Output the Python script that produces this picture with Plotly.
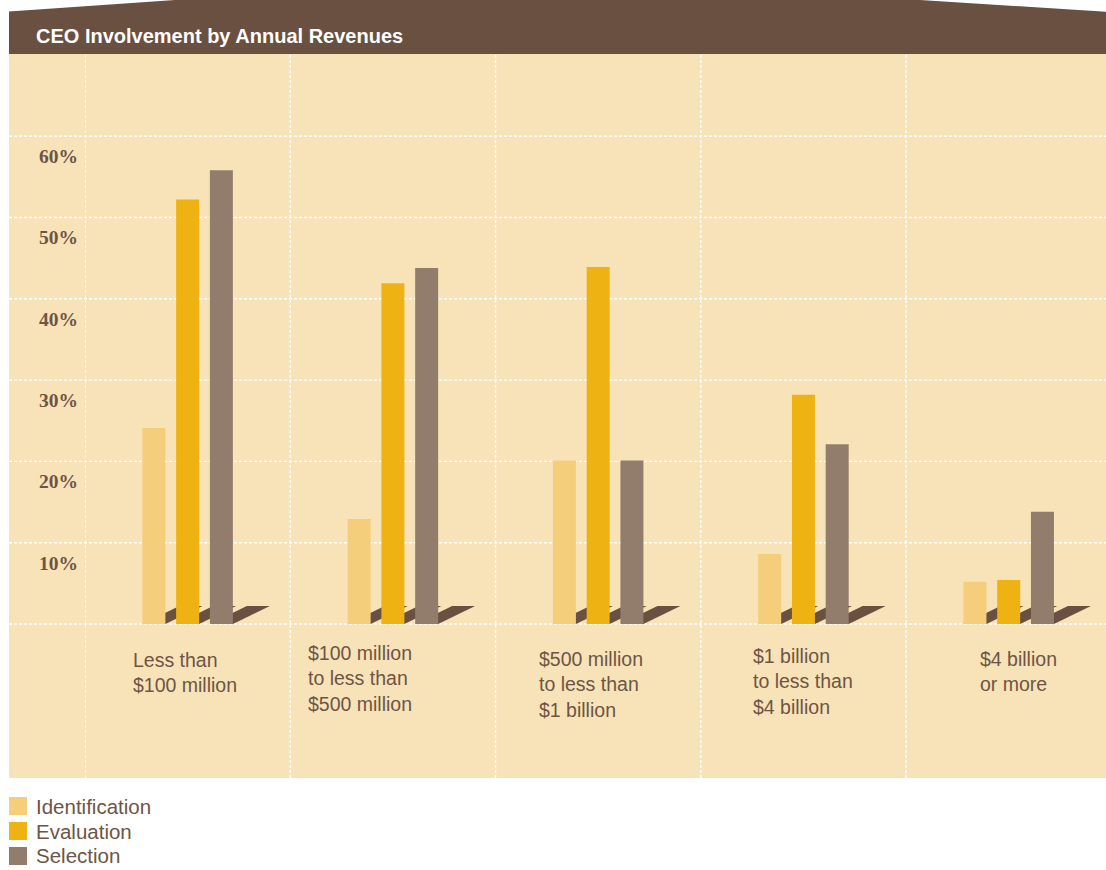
import plotly.graph_objects as go

# ---- data -------------------------------------------------------------
categories = [
    "Less than<br>$100 million",
    "$100 million<br>to less than<br>$500 million",
    "$500 million<br>to less than<br>$1 billion",
    "$1 billion<br>to less than<br>$4 billion",
    "$4 billion<br>or more",
]
series_names = ["Identification", "Evaluation", "Selection"]
identification = [24.1, 12.9, 20.1, 8.6, 5.2]
evaluation = [52.2, 41.9, 43.9, 28.2, 5.4]
selection = [55.8, 43.8, 20.1, 22.1, 13.8]
tick_values = [10, 20, 30, 40, 50, 60]
tick_labels = ["10%", "20%", "30%", "40%", "50%", "60%"]
title_text = "CEO Involvement by Annual Revenues"

# ---- styling ----------------------------------------------------------
W, H = 1106, 870
PLOT_L, PLOT_R, PLOT_T, PLOT_B = 85, 1106, 53, 778     # plot area in px
BG_LEFT = 9                                             # beige panel left edge
series_colors = ["#f5ce7b", "#eeb312", "#927d6d"]
BROWN = "#6a5041"
PANEL = "#f8e2b8"
TEXT = "#6d5545"
GRID = "rgba(255,255,255,1)"

Y_RANGE = [-18.94, 70.23]
X_RANGE = [-0.5, 4.474]
px_per_cat = (PLOT_R - PLOT_L) / (X_RANGE[1] - X_RANGE[0])
px_per_unit = (PLOT_B - PLOT_T) / (Y_RANGE[1] - Y_RANGE[0])

bar_w = 23 / px_per_cat
slot = 33.75 / px_per_cat
shadow_dx = 37 / px_per_cat
shadow_dy = 18 / px_per_unit


def px(x):
    return (x - PLOT_L) / (PLOT_R - PLOT_L)


def py(y):
    return (PLOT_B - y) / (PLOT_B - PLOT_T)


fig = go.Figure()
xs = list(range(len(categories)))
all_values = [identification, evaluation, selection]
offsets = [(i - 1) * slot - bar_w / 2 for i in range(3)]

for name, vals, color, off in zip(series_names, all_values, series_colors, offsets):
    fig.add_trace(go.Bar(
        x=xs, y=vals, name=name, width=bar_w, offset=off,
        marker=dict(color=color, line=dict(width=0)),
        showlegend=False, hoverinfo="skip",
    ))

shapes = []
# beige panel
shapes.append(dict(type="rect", xref="paper", yref="paper",
                   x0=px(BG_LEFT), x1=1, y0=0, y1=1,
                   fillcolor=PANEL, line=dict(width=0), layer="below"))
# header band with slanted top corners
hdr = [(BG_LEFT, 54), (BG_LEFT, 11.5), (175, 0), (920, 0), (1106, 11.7), (1106, 54)]
path = "M " + " L ".join(f"{px(x):.5f},{py(y):.5f}" for x, y in hdr) + " Z"
shapes.append(dict(type="path", xref="paper", yref="paper", path=path,
                   fillcolor=BROWN, line=dict(width=0), layer="below"))
# horizontal dashed grid
for v in [0] + tick_values:
    shapes.append(dict(type="line", xref="paper", yref="y",
                       x0=px(BG_LEFT), x1=1, y0=v, y1=v,
                       line=dict(color=GRID, width=1.4, dash="3px,2px"),
                       layer="below"))
# vertical dashed grid between categories
for k in range(len(categories)):
    shapes.append(dict(type="line", xref="x", yref="paper",
                       x0=k - 0.5, x1=k - 0.5, y0=0, y1=1,
                       line=dict(color=GRID, width=1.4, dash="3px,2px"),
                       layer="below"))
# cast shadows at the foot of each bar
for vals, off in zip(all_values, offsets):
    for j in xs:
        x0 = j + off
        x1 = x0 + bar_w
        p = (f"M {x0},0 L {x1},0 L {x1 + shadow_dx},{shadow_dy} "
             f"L {x0 + shadow_dx},{shadow_dy} Z")
        shapes.append(dict(type="path", xref="x", yref="y", path=p,
                           fillcolor=BROWN, line=dict(width=0), layer="below"))

# legend swatches
legend_tops = [797, 822, 847]
for color, top in zip(series_colors, legend_tops):
    shapes.append(dict(type="rect", xref="paper", yref="paper",
                       x0=px(9), x1=px(27), y0=py(top + 18), y1=py(top),
                       fillcolor=color, line=dict(width=0)))

annotations = []
annotations.append(dict(text=f"<b>{title_text}</b>", xref="paper", yref="paper",
                        x=px(34), y=py(36), xanchor="left", yanchor="middle",
                        showarrow=False,
                        font=dict(family="Liberation Sans, Arial", size=20,
                                  color="white")))

# category labels (left-aligned blocks under each group)
label_nudge = [-57, -86.5, -61, -52, -31]
label_top = [647, 640, 646, 643, 646]
for j, (txt, dxp, top) in enumerate(zip(categories, label_nudge, label_top)):
    annotations.append(dict(text=txt, xref="x", yref="paper", x=j, xshift=dxp,
                            y=py(top), xanchor="left", yanchor="top",
                            align="left", showarrow=False,
                            font=dict(family="Liberation Sans, Arial", size=19.5,
                                      color=TEXT)))

for name, top in zip(series_names, legend_tops):
    annotations.append(dict(text=name, xref="paper", yref="paper",
                            x=px(34), y=py(top + 9), xanchor="left",
                            yanchor="middle", showarrow=False,
                            font=dict(family="Liberation Sans, Arial", size=20.5,
                                      color=TEXT)))

fig.update_layout(
    width=W, height=H, autosize=False,
    margin=dict(l=PLOT_L, r=W - PLOT_R, t=PLOT_T, b=H - PLOT_B, pad=0),
    paper_bgcolor="white", plot_bgcolor="rgba(0,0,0,0)",
    barmode="overlay",
    shapes=shapes, annotations=annotations,
    xaxis=dict(range=X_RANGE, showgrid=False, zeroline=False,
               showticklabels=False, showline=False, fixedrange=True),
    yaxis=dict(range=Y_RANGE, showgrid=False, zeroline=False, showline=False,
               tickmode="array", tickvals=tick_values, ticktext=tick_labels,
               ticks="", ticklabelshift=20, ticklabelstandoff=6,
               tickfont=dict(family="Liberation Serif, serif", size=19.5,
                             color=TEXT, weight="bold"),
               fixedrange=True),
)

fig.write_html("out.html", config={"displayModeBar": False})
